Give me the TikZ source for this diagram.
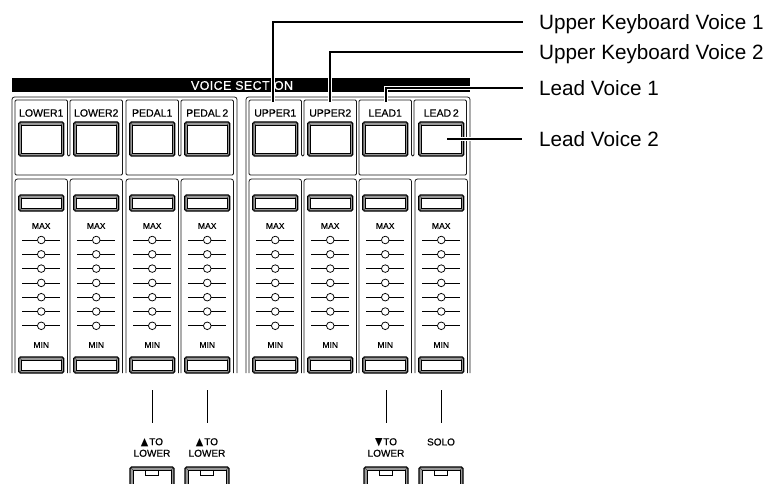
\documentclass[tikz,border=0pt]{standalone}
\usepackage{fontspec}
\setmainfont{Liberation Sans}
\newfontfamily\symfont{DejaVu Sans}
\newfontfamily\heavyfont[FakeBold=0.6]{Liberation Sans}
\newfontfamily\barfont[LetterSpace=3,FakeBold=0.4]{Liberation Sans}
\newcommand\bevelbtn[4]{%
  \draw[line width=1.1pt, fill=black!40, rounded corners=1.5pt] (#1-#3/2,#2) rectangle (#1+#3/2,#2+#4);
  \draw[line width=0.4pt, black!75] (#1-#3/2+0.6,#2+0.6) -- (#1-#3/2+2.8,#2+2.8)
        (#1+#3/2-0.6,#2+0.6) -- (#1+#3/2-2.8,#2+2.8)
        (#1-#3/2+0.6,#2+#4-0.6) -- (#1-#3/2+2.8,#2+#4-2.8)
        (#1+#3/2-0.6,#2+#4-0.6) -- (#1+#3/2-2.8,#2+#4-2.8);
  \draw[line width=0.5pt, fill=white] (#1-#3/2+2.8,#2+2.8) rectangle (#1+#3/2-2.8,#2+#4-2.8);
}
\newcommand\tabbtn[4]{%
  \bevelbtn{#1}{#2}{#3}{#4}
  \draw[line width=0.5pt] (#1-6.5,#2+2.8) -- (#1-6.5,#2+8) -- (#1+6.5,#2+8) -- (#1+6.5,#2+2.8);
}
\newcommand\trisym[1]{\resizebox{7.5pt}{7pt}{\symfont #1}\hspace{0.8pt}}
\begin{document}
\begin{tikzpicture}[x=1pt,y=-1pt,
  frame/.style={draw=black!90, line width=0.8pt, rounded corners=2.5pt},
  pairframe/.style={draw=black!90, line width=0.8pt, rounded corners=1.2pt},
  lbl/.style={font=\heavyfont\fontsize{10.5}{12}\selectfont, inner sep=0pt},
  tinylbl/.style={font=\heavyfont\fontsize{8.5}{9}\selectfont, inner sep=0pt},
  botlbl/.style={font=\heavyfont\fontsize{10}{11.5}\selectfont, inner sep=0pt, align=center},
  callout/.style={line width=1.3pt, preaction={draw=white, line width=4pt}},
  calltext/.style={anchor=base west, font=\fontsize{20.7}{24}\selectfont, inner sep=0pt},
  conn/.style={line width=0.9pt},
  tick/.style={line width=0.75pt}
]
\useasboundingbox (0,0) rectangle (771,484);
\clip (0,0) rectangle (771,484);
\fill[white] (0,0) rectangle (771,484);

% header bar
\fill[black] (12,78) rectangle (470,92);
\node[font=\barfont\fontsize{12.5}{14}\selectfont, text=white, inner sep=0pt] (vs) at (242,85.5) {VOICE SECTION};

% group frames
\draw[frame] (12,373) -- (12,97) -- (237,97) -- (237,373);
\draw[frame] (246,373) -- (246,97) -- (470,97) -- (470,373);

% pair boxes (top part)
\foreach \a in {15,126,249,359} {
  \draw[pairframe] (\a,175) -- (\a,100) -- (\a+52.5,100) -- (\a+52.5,156) -- (\a+55,156) -- (\a+55,100) -- (\a+107.5,100) -- (\a+107.5,175) -- cycle;
}

% columns
\foreach \xl/\nm [count=\i, evaluate=\xl as \cx using \xl+26.25] in
  {15/LOWER1, 70/LOWER2, 126/PEDAL1, 181/PEDAL\,2, 249/UPPER1, 304/UPPER2, 359/LEAD1, 415/LEAD\,2} {
  \draw[frame] (\xl,373) -- (\xl,179) -- (\xl+52.5,179) -- (\xl+52.5,373);
  \node[lbl] (lab\i) at (\cx,113) {\nm};
  \bevelbtn{\cx}{122}{45}{34}
  \bevelbtn{\cx}{195}{45}{16}
  \node[tinylbl] (max\i) at (\cx,226) {MAX};
  \foreach \k in {0,...,6} {
    \draw[tick] (\cx,240+14.3*\k) circle[radius=3.8pt];
    \draw[tick] (\cx-19,240+14.3*\k) -- (\cx-3.8,240+14.3*\k)
                (\cx+3.8,240+14.3*\k) -- (\cx+19,240+14.3*\k);
  }
  \node[tinylbl] (min\i) at (\cx,345) {MIN};
  \bevelbtn{\cx}{357}{45}{16}
}

% bottom controls
\coordinate (p1a) at (152,390); \coordinate (p1b) at (152,423);
\coordinate (p2a) at (207,390); \coordinate (p2b) at (207,423);
\coordinate (l1a) at (386,390); \coordinate (l1b) at (386,423);
\coordinate (l2a) at (441,390); \coordinate (l2b) at (441,423);
\draw[conn] (p1a) -- (p1b);
\draw[conn] (p2a) -- (p2b);
\draw[conn] (l1a) -- (l1b);
\draw[conn] (l2a) -- (l2b);

\node[botlbl] (b1) at (152,447.5) {\trisym{▲}TO\\LOWER};
\node[botlbl] (b2) at (207,447.5) {\trisym{▲}TO\\LOWER};
\node[botlbl] (b3) at (386,447.5) {\trisym{▼}TO\\LOWER};
\node[botlbl] (b4) at (441,442) {SOLO};

\tabbtn{152}{467}{44}{24}
\tabbtn{207}{467}{44}{24}
\tabbtn{386}{467}{44}{24}
\tabbtn{441}{467}{44}{24}

% callouts
\coordinate (a1) at (273,102); \coordinate (e1) at (523,22);
\coordinate (a2) at (330,102); \coordinate (e2) at (523,52);
\coordinate (a3) at (386,102); \coordinate (e3) at (523,88);
\coordinate (a4) at (447,139); \coordinate (e4) at (522,139);
\node[calltext] (t1) at (539,29.5) {Upper Keyboard Voice 1};
\node[calltext] (t2) at (539,59.5) {Upper Keyboard Voice 2};
\node[calltext] (t3) at (539,95.5) {Lead Voice 1};
\node[calltext] (t4) at (539,146.5) {Lead Voice 2};
\draw[callout] (a1) |- (e1);
\draw[callout] (a2) |- (e2);
\draw[callout] (a3) |- (e3);
\draw[callout] (a4) -- (e4);
\end{tikzpicture}
\end{document}
